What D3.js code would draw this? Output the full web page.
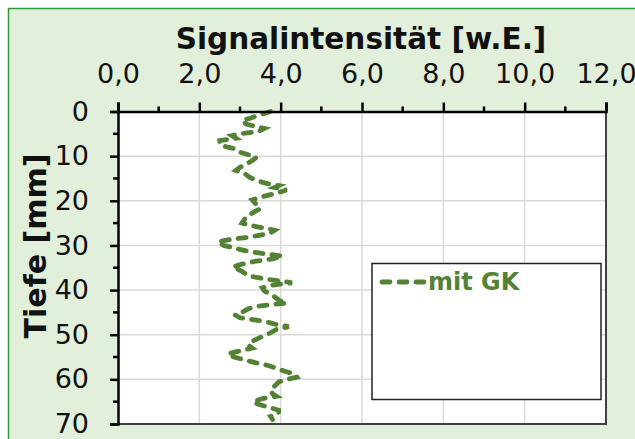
<!DOCTYPE html>
<html>
<head>
<meta charset="utf-8">
<script src="https://cdn.jsdelivr.net/npm/d3@7"></script>
<style>
  body { margin: 0; background: #ffffff; }
  svg { display: block; font-family: "DejaVu Sans", Verdana, sans-serif; }
</style>
</head>
<body>
<svg id="chart" width="635" height="439"></svg>
<script>
// Tiefe [mm] und Signalintensitaet [w.E.]
var tiefe = [
  0.0, 0.7, 1.5, 2.0, 2.8, 3.4, 3.8, 4.5, 5.0, 5.4,
  6.0, 6.5, 7.4, 8.0, 8.3, 9.0, 9.8, 10.3, 11.0, 11.8,
  12.5, 13.2, 13.8, 14.8, 15.6, 16.2, 16.6, 17.0, 17.6, 18.4,
  19.2, 19.8, 20.8, 21.8, 22.5, 23.6, 25.0, 25.8, 26.2, 26.6,
  27.2, 27.7, 28.2, 28.6, 29.2, 30.0, 30.8, 31.3, 31.8, 32.4,
  33.0, 33.6, 34.2, 34.8, 35.8, 36.8, 37.4, 37.8, 38.1, 38.4,
  38.9, 39.5, 40.2, 41.2, 42.4, 42.9, 43.2, 43.6, 44.2, 45.0,
  45.6, 46.2, 46.6, 47.0, 47.6, 48.2, 48.8, 49.8, 50.6, 51.5,
  52.3, 53.0, 53.6, 54.3, 55.0, 55.6, 56.2, 56.8, 57.5, 58.2,
  58.8, 59.5, 60.0, 60.6, 61.5, 62.6, 63.2, 63.8, 64.3, 65.0,
  65.6, 66.2, 66.9, 67.6, 68.3, 69.0
];
var mitGK = [
  3.75, 3.5, 3.25, 3.05, 3.15, 3.4, 3.6, 3.45, 3.0, 2.8,
  2.9, 2.5, 2.5, 2.7, 2.85, 2.95, 3.25, 3.4, 3.3, 3.15,
  3.0, 2.9, 3.1, 3.25, 3.45, 3.7, 3.95, 3.85, 4.15, 3.85,
  3.5, 3.3, 3.4, 3.5, 3.35, 3.15, 3.05, 3.4, 3.65, 3.85,
  3.75, 3.5, 3.2, 2.8, 2.45, 2.6, 2.95, 3.2, 3.55, 4.05,
  3.8, 3.35, 3.05, 2.82, 3.05, 3.2, 3.55, 3.85, 4.1, 4.28,
  3.78, 3.55, 3.6, 3.8, 3.98, 4.15, 3.8, 3.45, 3.2, 3.05,
  2.88, 3.0, 3.3, 3.6, 3.85, 4.2, 3.9, 3.7, 3.5, 3.3,
  3.2, 3.3, 3.0, 2.7, 2.85, 3.1, 3.35, 3.65, 3.9, 4.1,
  4.35, 4.4, 4.15, 3.95, 3.85, 3.75, 3.8, 3.9, 3.55, 3.32,
  3.45, 3.7, 3.95, 3.95, 3.75, 3.8
];
var xTicks = [0, 2, 4, 6, 8, 10, 12];
var xMinor = [1, 3, 5, 7, 9, 11];
var yTicks = [0, 10, 20, 30, 40, 50, 60, 70];
var yMinor = [5, 15, 25, 35, 45, 55, 65];
var serienName = "mit GK";

var gruen = "#548235";
var fmt = function(d) { return d3.format(".1f")(d).replace(".", ","); };

var svg = d3.select("#chart");
var plotL = 118, plotR = 606, plotT = 111.5, plotB = 424;

var xScale = d3.scaleLinear().domain([0, 12]).range([plotL, plotR]);
var yScale = d3.scaleLinear().domain([0, 70]).range([plotT, plotB]);

// Hintergrund / Rahmen
svg.append("rect")
   .attr("x", 8.5).attr("y", 8.5)
   .attr("width", 640).attr("height", 440)
   .attr("fill", "#e2efda")
   .attr("stroke", "#2e9a3a")
   .attr("stroke-width", 1.5);

// Plotflaeche
svg.append("rect")
   .attr("x", plotL).attr("y", plotT)
   .attr("width", plotR - plotL).attr("height", plotB - plotT)
   .attr("fill", "#ffffff");

// Gitter
svg.append("g")
   .selectAll("line")
   .data(xTicks.slice(1, -1))
   .enter().append("line")
   .attr("x1", function(d) { return xScale(d); })
   .attr("x2", function(d) { return xScale(d); })
   .attr("y1", plotT).attr("y2", plotB)
   .attr("stroke", "#d9d9d9").attr("stroke-width", 1.5);

svg.append("g")
   .selectAll("line")
   .data(yTicks.slice(1, -1))
   .enter().append("line")
   .attr("y1", function(d) { return yScale(d); })
   .attr("y2", function(d) { return yScale(d); })
   .attr("x1", plotL).attr("x2", plotR)
   .attr("stroke", "#d9d9d9").attr("stroke-width", 1.5);

// Rand rechts / unten
svg.append("path")
   .attr("d", "M" + plotR + "," + plotT + "V" + plotB + "H" + plotL)
   .attr("fill", "none")
   .attr("stroke", "#404040")
   .attr("stroke-width", 2);

// Datenlinie
var line = d3.line()
    .x(function(d) { return xScale(d[1]); })
    .y(function(d) { return yScale(d[0]); });

svg.append("path")
   .datum(d3.zip(tiefe, mitGK))
   .attr("d", line)
   .attr("fill", "none")
   .attr("stroke", gruen)
   .attr("stroke-width", 4.8)
   .attr("stroke-linecap", "round")
   .attr("stroke-dasharray", "8 9");

// x-Achse oben
var xAxis = svg.append("g")
   .attr("transform", "translate(0," + plotT + ")")
   .call(d3.axisTop(xScale).tickValues(xTicks).tickFormat(fmt).tickSize(9).tickPadding(20));
xAxis.select(".domain").attr("stroke", "#000").attr("stroke-width", 2.5);
xAxis.selectAll(".tick line").attr("stroke", "#000").attr("stroke-width", 2.5);
xAxis.selectAll("text")
   .attr("font-size", 27)
   .attr("fill", "#111")
   .attr("font-family", "DejaVu Sans, Verdana, sans-serif");

svg.append("g")
   .selectAll("line")
   .data(xMinor)
   .enter().append("line")
   .attr("x1", function(d) { return xScale(d); })
   .attr("x2", function(d) { return xScale(d); })
   .attr("y1", plotT).attr("y2", plotT - 5)
   .attr("stroke", "#000").attr("stroke-width", 2.5);

// y-Achse links
var yAxis = svg.append("g")
   .attr("transform", "translate(" + plotL + ",0)")
   .call(d3.axisLeft(yScale).tickValues(yTicks).tickSize(8).tickPadding(21));
yAxis.select(".domain").attr("stroke", "#000").attr("stroke-width", 2.5);
yAxis.selectAll(".tick line").attr("stroke", "#000").attr("stroke-width", 2.5);
yAxis.selectAll("text")
   .attr("font-size", 27)
   .attr("fill", "#111")
   .attr("font-family", "DejaVu Sans, Verdana, sans-serif");

svg.append("g")
   .selectAll("line")
   .data(yMinor)
   .enter().append("line")
   .attr("y1", function(d) { return yScale(d); })
   .attr("y2", function(d) { return yScale(d); })
   .attr("x1", plotL).attr("x2", plotL - 5)
   .attr("stroke", "#000").attr("stroke-width", 2.5);

// Achsentitel
svg.append("text")
   .attr("x", 361).attr("y", 49)
   .attr("text-anchor", "middle")
   .attr("font-size", 29.5)
   .attr("font-weight", "bold")
   .attr("fill", "#111")
   .text("Signalintensität [w.E.]");

svg.append("text")
   .attr("transform", "translate(46,246) rotate(-90)")
   .attr("text-anchor", "middle")
   .attr("font-size", 30)
   .attr("font-weight", "bold")
   .attr("fill", "#111")
   .text("Tiefe [mm]");

// Legende
svg.append("rect")
   .attr("x", 372).attr("y", 263.5)
   .attr("width", 229).attr("height", 136)
   .attr("fill", "#ffffff")
   .attr("stroke", "#222")
   .attr("stroke-width", 1.5);

svg.append("line")
   .attr("x1", 382).attr("x2", 424)
   .attr("y1", 282).attr("y2", 282)
   .attr("stroke", gruen)
   .attr("stroke-width", 4.8)
   .attr("stroke-linecap", "round")
   .attr("stroke-dasharray", "8 9");

svg.append("text")
   .attr("x", 428).attr("y", 290)
   .attr("font-size", 24)
   .attr("font-weight", "bold")
   .attr("fill", gruen)
   .text(serienName);
</script>
</body>
</html>
